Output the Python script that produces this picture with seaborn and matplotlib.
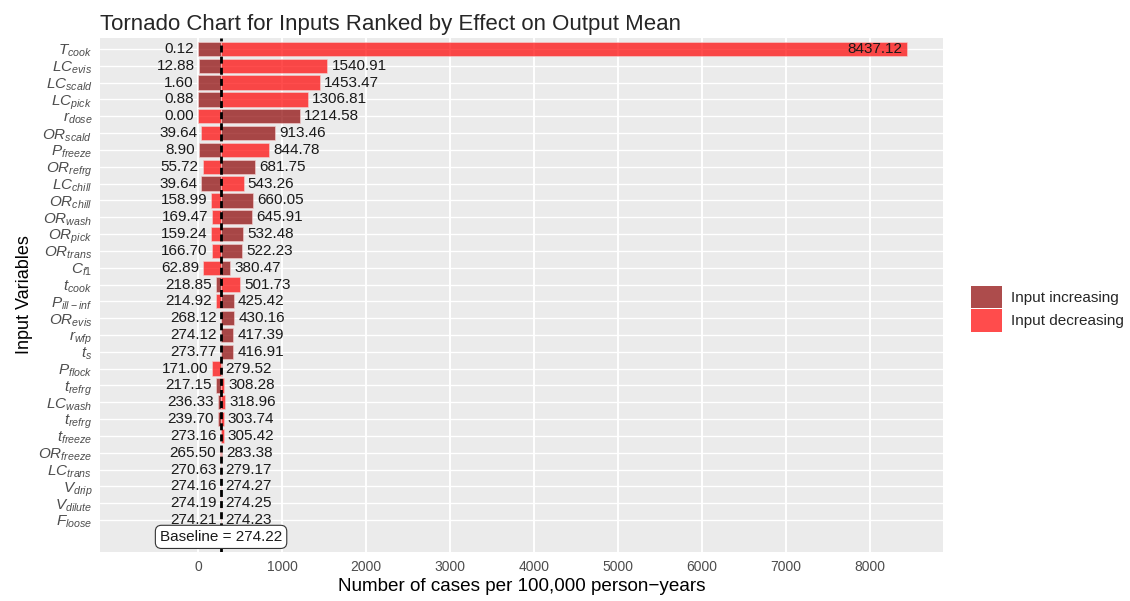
import pandas as pd
import matplotlib.pyplot as plt
from matplotlib.patches import Patch
import seaborn as sns

# Tornado data: output at the low and high end of each input, baseline output
baseline = 274.22

var_labels = [
    r"$T_{cook}$", r"$LC_{evis}$", r"$LC_{scald}$", r"$LC_{pick}$", r"$r_{dose}$",
    r"$OR_{scald}$", r"$P_{freeze}$", r"$OR_{refrg}$", r"$LC_{chill}$", r"$OR_{chill}$",
    r"$OR_{wash}$", r"$OR_{pick}$", r"$OR_{trans}$", r"$C_{f1}$", r"$t_{cook}$",
    r"$P_{ill-inf}$", r"$OR_{evis}$", r"$r_{wfp}$", r"$t_{s}$", r"$P_{flock}$",
    r"$t_{refrg}$", r"$LC_{wash}$", r"$t_{refrg}$", r"$t_{freeze}$", r"$OR_{freeze}$",
    r"$LC_{trans}$", r"$V_{drip}$", r"$V_{dilute}$", r"$F_{loose}$",
]
low_vals = [
    0.12, 12.88, 1.60, 0.88, 0.00, 39.64, 8.90, 55.72, 39.64, 158.99,
    169.47, 159.24, 166.70, 62.89, 218.85, 214.92, 268.12, 274.12, 273.77, 171.00,
    217.15, 236.33, 239.70, 273.16, 265.50, 270.63, 274.16, 274.19, 274.21,
]
high_vals = [
    8437.12, 1540.91, 1453.47, 1306.81, 1214.58, 913.46, 844.78, 681.75, 543.26, 660.05,
    645.91, 532.48, 522.23, 380.47, 501.73, 425.42, 430.16, 417.39, 416.91, 279.52,
    308.28, 318.96, 303.74, 305.42, 283.38, 279.17, 274.27, 274.25, 274.23,
]
# which input direction produced the low output
low_dir = [
    "Input increasing", "Input increasing", "Input increasing", "Input increasing", "Input decreasing",
    "Input decreasing", "Input increasing", "Input decreasing", "Input increasing", "Input decreasing",
    "Input decreasing", "Input decreasing", "Input decreasing", "Input decreasing", "Input increasing",
    "Input decreasing", "Input decreasing", "Input decreasing", "Input decreasing", "Input decreasing",
    "Input increasing", "Input increasing", "Input increasing", "Input increasing", "Input decreasing",
    "Input decreasing", "Input decreasing", "Input decreasing", "Input decreasing",
]
directions = ["Input increasing", "Input decreasing"]
colors = {"Input increasing": "#8B0000", "Input decreasing": "#FF0000"}

other = {directions[0]: directions[1], directions[1]: directions[0]}
row_ids = [f"v{i:02d}" for i in range(len(var_labels))]
df = pd.DataFrame({
    "row": row_ids * 2,
    "width": [v - baseline for v in low_vals] + [v - baseline for v in high_vals],
    "direction": low_dir + [other[d] for d in low_dir],
})

sns.set_theme(style="darkgrid", rc={
    "axes.facecolor": "#EBEBEB",
    "grid.color": "white",
    "xtick.major.size": 3.5,
    "ytick.major.size": 3.5,
    "xtick.major.width": 1.1,
    "ytick.major.width": 1.1,
    "xtick.color": "#333333",
    "ytick.color": "#333333",
    "xtick.major.pad": 2,
    "ytick.major.pad": 2,
})
plt.rcParams["font.family"] = ["Liberation Sans", "DejaVu Sans"]
plt.rcParams["mathtext.fontset"] = "custom"
plt.rcParams["mathtext.it"] = "Liberation Sans:italic"
plt.rcParams["mathtext.rm"] = "Liberation Sans"

fig, ax = plt.subplots(figsize=(11.3, 6.01), dpi=100)
fig.subplots_adjust(left=0.0885, right=0.8345, top=0.9368, bottom=0.0815)

# bars start at the baseline, so widths are offsets from it
sns.barplot(data=df, y="row", x="width", hue="direction", order=row_ids,
            hue_order=directions, palette=colors, saturation=1, dodge=False, errorbar=None,
            width=0.85, left=baseline, alpha=0.7, edgecolor="#F4D0D0", linewidth=0.6,
            legend=False, ax=ax)

ax.axvline(baseline, color="black", ls=(0, (2.5, 1.5)), lw=2.0, zorder=5)

for i, (lo, hi) in enumerate(zip(low_vals, high_vals)):
    ax.annotate(f"{lo:.2f}", xy=(lo, i), xytext=(-3, 0), textcoords="offset points",
                ha="right", va="center", fontsize=11, color="#1A1A1A")
    if hi > 5000:
        ax.annotate(f"{hi:.2f}", xy=(hi, i), xytext=(-3, 0), textcoords="offset points",
                    ha="right", va="center", fontsize=11, color="#1A1A1A")
    else:
        ax.annotate(f"{hi:.2f}", xy=(hi, i), xytext=(3, 0), textcoords="offset points",
                    ha="left", va="center", fontsize=11, color="#1A1A1A")

ax.text(baseline, len(var_labels), f"Baseline = {baseline:.2f}", ha="center", va="center",
        fontsize=11, color="#1A1A1A", zorder=6,
        bbox=dict(boxstyle="round,pad=0.3,rounding_size=0.4", fc="white", ec="#333333", lw=0.8))

ax.set_xlim(-1167, 8869)
ax.set_ylim(29.9, -0.654)
ax.set_xticks(range(0, 8001, 1000))
ax.set_yticks(range(len(var_labels)))
ax.set_yticklabels(var_labels)
ax.tick_params(axis="x", labelsize=10, labelcolor="#4D4D4D")
ax.tick_params(axis="y", labelsize=11, labelcolor="#4D4D4D")
ax.grid(axis="x", color="white", lw=1.4)
ax.grid(axis="y", color="white", lw=1.0)
for s in ax.spines.values():
    s.set_visible(False)

ax.set_xlabel("Number of cases per 100,000 person\u2212years", fontsize=13.6, color="black",
              labelpad=3)
ax.set_ylabel("Input Variables", fontsize=13, color="black")
ax.set_title("Tornado Chart for Inputs Ranked by Effect on Output Mean", loc="left",
             fontsize=16, pad=6)

handles = [Patch(facecolor=colors[d], alpha=0.7, lw=0, label=d) for d in directions]
ax.legend(handles=handles, loc="center left", bbox_to_anchor=(1.017, 0.473), frameon=False,
          fontsize=11, handlelength=2.0, handleheight=1.9, labelspacing=0.05,
          handletextpad=0.6)

fig.savefig("out.png", dpi=100)
